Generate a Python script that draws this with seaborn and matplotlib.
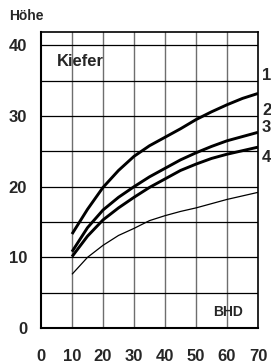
import numpy as np
import pandas as pd
import seaborn as sns
import matplotlib.pyplot as plt

# data (BHD in cm, Höhe in m)
bhd = [10, 15, 20, 25, 30, 35, 40, 45, 50, 55, 60, 65, 70]
hoehe_1 = [13.3, 16.8, 19.9, 22.3, 24.3, 25.8, 27.0, 28.2, 29.5, 30.6, 31.6, 32.5, 33.2]
hoehe_2 = [10.8, 14.2, 16.7, 18.5, 20.0, 21.4, 22.6, 23.8, 24.8, 25.7, 26.5, 27.1, 27.7]
hoehe_3 = [10.1, 13.0, 15.3, 17.0, 18.5, 19.9, 21.1, 22.3, 23.2, 24.0, 24.6, 25.1, 25.6]
hoehe_4 = [7.6, 10.0, 11.7, 13.1, 14.1, 15.2, 15.9, 16.5, 17.0, 17.6, 18.2, 18.7, 19.2]
curve_labels = ["1", "2", "3", "4"]
label_y = [35.8, 30.8, 28.4, 24.2]

df = pd.DataFrame({
    "BHD": bhd * 4,
    "Hoehe": hoehe_1 + hoehe_2 + hoehe_3 + hoehe_4,
    "Kurve": sum([[c] * len(bhd) for c in curve_labels], []),
})

sns.set_style("white")
plt.rcParams["font.family"] = ["Liberation Sans", "DejaVu Sans"]
plt.rcParams["font.weight"] = "bold"

fig = plt.figure(figsize=(2.71, 3.64), dpi=100)
ax = fig.add_axes([41 / 271, 1 - 328 / 364, 217 / 271, 296 / 364])

sns.lineplot(
    data=df, x="BHD", y="Hoehe", hue="Kurve", size="Kurve",
    sizes={"1": 2.1, "2": 2.1, "3": 2.1, "4": 0.9},
    palette={c: "black" for c in curve_labels},
    legend=False, ax=ax, zorder=3,
)
for ln in ax.get_lines():
    ln.set_solid_joinstyle("round")
    ln.set_solid_capstyle("butt")

ax.set_xlim(0, 70)
ax.set_ylim(0, 41.9)

# grid: vertical every 10 (grey), horizontal every 5 (black)
for xv in range(10, 70, 10):
    ax.axvline(xv, color="#6e6e6e", lw=1.0, zorder=1)
for yv in range(5, 41, 5):
    ax.axhline(yv, color="black", lw=0.9, zorder=1)

ax.set_xticks(range(0, 71, 10))
ax.set_yticks(range(0, 41, 10))
ax.tick_params(direction="out", length=4, width=1, color="black",
               labelsize=12, pad=11)
ax.tick_params(axis="y", pad=6)
for lab in ax.get_xticklabels() + ax.get_yticklabels():
    lab.set_fontweight("bold")

for sp in ax.spines.values():
    sp.set_visible(True)
    sp.set_color("black")
    sp.set_linewidth(1.2)
ax.spines["left"].set_linewidth(1.5)
ax.spines["bottom"].set_linewidth(1.5)

ax.set_xlabel("")
ax.set_ylabel("")

ax.text(5.2, 37.7, "Kiefer", fontsize=12, fontweight="bold", va="center")
ax.text(65.3, 2.3, "BHD", fontsize=10, fontweight="bold", va="center", ha="right")
fig.text(9 / 271, 1 - 16 / 364, "Höhe", fontsize=10, fontweight="bold", va="center")

for lab, yv in zip(curve_labels, label_y):
    ax.text(71.3, yv, lab, fontsize=12, fontweight="bold", va="center",
            clip_on=False)

fig.savefig("out.png", dpi=100)
